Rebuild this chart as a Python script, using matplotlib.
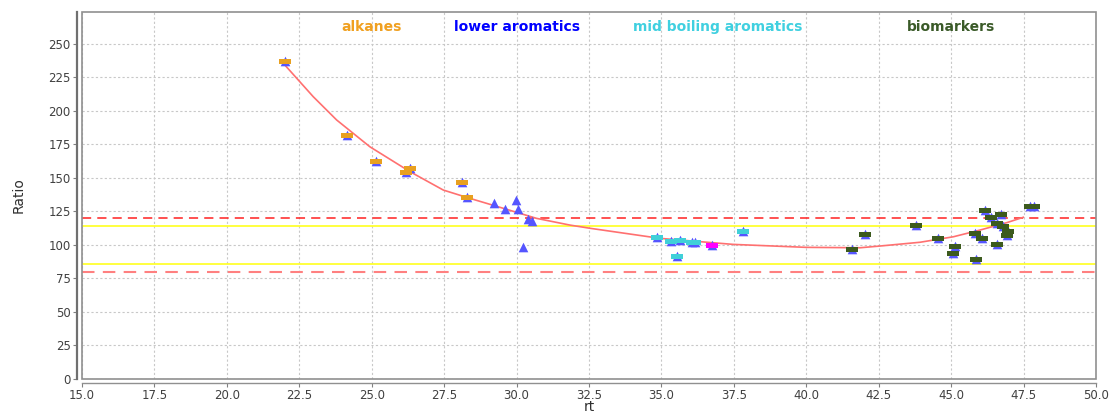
import matplotlib
matplotlib.use("Agg")
import matplotlib.pyplot as plt
from matplotlib.patches import Rectangle
from matplotlib.path import Path

# Peak retention times (rt) and response ratios per compound class
alkanes_rt = [22.01, 24.16, 25.14, 26.18, 26.32, 28.13, 28.28]
alkanes_ratio = [237.0, 182.0, 162.5, 154.5, 157.5, 146.5, 135.8]

lower_arom_rt = [29.22, 29.60, 29.98, 30.06, 30.22, 30.40, 30.52]
lower_arom_ratio = [130.9, 126.4, 133.4, 126.4, 98.4, 119.0, 118.0]

mid_arom_rt = [34.84, 35.32, 35.53, 35.64, 36.05, 36.16, 37.83]
mid_arom_ratio = [105.6, 103.1, 91.7, 103.6, 101.9, 101.9, 110.5]

flagged_rt = [36.74]
flagged_ratio = [99.9]

biomarkers_rt = [41.57, 42.03, 43.78, 44.56, 45.08, 45.13, 45.82, 45.85,
                 46.08, 46.17, 46.37, 46.57, 46.59, 46.71, 46.80, 46.92,
                 46.95, 47.72, 47.85]
biomarkers_ratio = [96.8, 108.0, 115.0, 105.0, 93.8, 98.8, 108.7, 89.5,
                    105.0, 126.0, 121.0, 116.6, 100.7, 123.0, 113.7, 107.5,
                    110.4, 128.6, 128.6]

# Trend curve through the ratios
trend_rt = [22.0, 22.98, 23.79, 24.94, 26.32, 27.47, 28.39, 29.54, 30.69,
            31.84, 32.54, 34.95, 37.48, 39.99, 41.86, 42.55, 43.93, 45.08,
            46.0, 46.92, 47.49]
trend_ratio = [234.0, 210.4, 193.0, 173.0, 154.5, 140.8, 134.6, 127.2, 119.7,
               114.7, 112.3, 104.8, 100.3, 98.1, 97.8, 99.1, 101.9, 106.0,
               111.0, 116.5, 120.5]

# Acceptance limits
limit_outer = [80, 120]
limit_inner = [86, 114]

x_ticks = [15.0, 17.5, 20.0, 22.5, 25.0, 27.5, 30.0, 32.5, 35.0, 37.5, 40.0,
           42.5, 45.0, 47.5, 50.0]
y_ticks = [0, 25, 50, 75, 100, 125, 150, 175, 200, 225, 250]

legend_labels = ["alkanes", "lower aromatics", "mid boiling aromatics", "biomarkers"]
legend_colors = ["#f0a020", "#0000ff", "#40d0e0", "#3a5a28"]
legend_x = [25.0, 30.0, 36.95, 45.0]

tri_color = "#5555ff"
box_path = Path([(-1, -0.42), (1, -0.42), (1, 0.3), (-1, 0.3), (-1, -0.42)],
                [Path.MOVETO, Path.LINETO, Path.LINETO, Path.LINETO, Path.CLOSEPOLY])

fig = plt.figure(figsize=(11.14, 4.13), dpi=100)
ax = fig.add_axes([82 / 1114, 34 / 413, 1014 / 1114, 367.3 / 413])

ax.set_xlim(15, 50)
ax.set_ylim(0, 273.7)
ax.set_xticks(x_ticks)
ax.set_xticklabels([f"{t:.1f}" for t in x_ticks])
ax.set_yticks(y_ticks)
ax.set_yticklabels([str(t) for t in y_ticks])

ax.grid(True, color="#c8c8c8", linestyle=(0, (2, 2)), linewidth=0.8)
ax.set_axisbelow(True)

for s in ("top", "right"):
    ax.spines[s].set_visible(False)
ax.spines["left"].set_position(("outward", 3.6))
ax.spines["bottom"].set_position(("outward", 2.8))
ax.spines["left"].set_color("#707070")
ax.spines["left"].set_linewidth(1.6)
ax.spines["bottom"].set_color("#909090")
ax.spines["bottom"].set_linewidth(1.0)
ax.add_patch(Rectangle((0, 0), 1, 1, transform=ax.transAxes, fill=False,
                       edgecolor="#909090", linewidth=1.2, clip_on=False, zorder=6))

ax.tick_params(axis="both", direction="out", length=3, color="#808080",
               labelcolor="#404040", labelsize=8.5, pad=1.5)

# limit lines
ax.axhline(limit_outer[1], color="#ff2020", linestyle=(0, (6, 4)), linewidth=1.1, zorder=2)
ax.axhline(limit_outer[0], color="#ff8080", linestyle=(0, (6, 4)), linewidth=1.5, zorder=2)
for v in limit_inner:
    ax.axhline(v, color="#ffff30", linewidth=1.3, zorder=2)

# trend
ax.plot(trend_rt, trend_ratio, color="#ff7070", linewidth=1.2, zorder=3)

# points: every peak gets a triangle, classes are overlaid with a coloured bar
all_rt = alkanes_rt + lower_arom_rt + mid_arom_rt + flagged_rt + biomarkers_rt
all_ratio = alkanes_ratio + lower_arom_ratio + mid_arom_ratio + flagged_ratio + biomarkers_ratio
ax.scatter(all_rt, all_ratio, marker="^", s=48, color=tri_color, linewidths=0, zorder=4)

ax.scatter(alkanes_rt, alkanes_ratio, marker=box_path, s=80, color="#e8a020",
           linewidths=0, zorder=5)
ax.scatter(mid_arom_rt, mid_arom_ratio, marker=box_path, s=80, color="#40d0d8",
           linewidths=0, zorder=5)
ax.scatter(flagged_rt, flagged_ratio, marker=box_path, s=80, color="#ff00ff",
           linewidths=0, zorder=5)
ax.scatter(biomarkers_rt, biomarkers_ratio, marker=box_path, s=85, color="#3c5a1e",
           linewidths=0, zorder=5)

for lab, col, xpos in zip(legend_labels, legend_colors, legend_x):
    ax.text(xpos, 262, lab, color=col, fontsize=10, fontweight="bold",
            ha="center", va="center", zorder=7)

ax.set_xlabel("rt", fontsize=10, color="#303030")
ax.xaxis.set_label_coords(0.5, -0.058)
ax.set_ylabel("Ratio", fontsize=10, color="#303030")
ax.yaxis.set_label_coords(-0.056, 0.5)

fig.savefig("out.png", dpi=100)
